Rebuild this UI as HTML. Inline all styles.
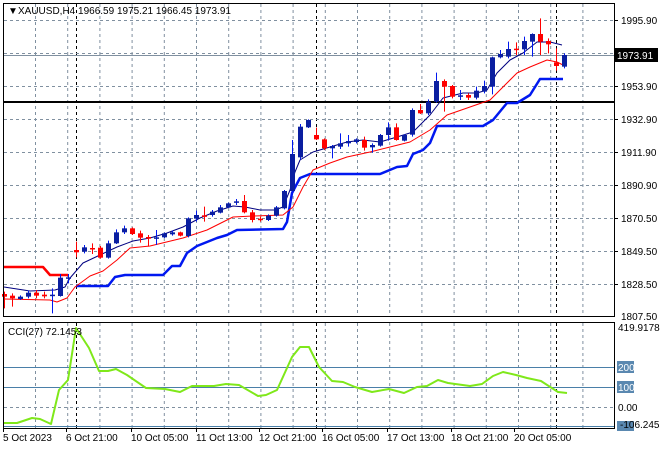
<!DOCTYPE html>
<html><head><meta charset="utf-8">
<style>
html,body{margin:0;padding:0;background:#fff;}
svg{display:block;font-family:"Liberation Sans",sans-serif;font-size:10px;}
</style></head>
<body>
<svg id="s" width="660" height="450" viewBox="0 0 660 450" xmlns="http://www.w3.org/2000/svg">
<rect x="0" y="0" width="660" height="450" fill="#fff"/>
<g id="grid"></g>
<g id="plot"></g>
<rect x="3.5" y="3.5" width="611" height="313" fill="none" stroke="#000"/>
<rect x="3.5" y="322.5" width="611" height="106" fill="none" stroke="#000"/>
<text x="8" y="14" font-size="10">&#9660;</text>
<text x="18" y="14">XAUUSD,H4  1966.59 1975.21 1966.45 1973.91</text>
<text x="8" y="335">CCI(27) 72.1453</text>
<g id="axis"></g>
</svg>
<script>
const NS="http://www.w3.org/2000/svg";
function el(p,t,a,txt){const e=document.createElementNS(NS,t);for(const k in a)e.setAttribute(k,a[k]);if(txt!==undefined)e.textContent=txt;document.getElementById(p).appendChild(e);return e;}
for(let i=0;i<18;i++){const x=35.5+32.2*i;if(x>613)break;
 el('grid','line',{x1:x,y1:4,x2:x,y2:316,stroke:'#8090a0','stroke-dasharray':'3,3'});
 el('grid','line',{x1:x,y1:323,x2:x,y2:428,stroke:'#8090a0','stroke-dasharray':'3,3'});}
[76.5,316.5,556.5].forEach(x=>{el('grid','line',{x1:x,y1:4,x2:x,y2:316,stroke:'#000','stroke-dasharray':'3,3'});el('grid','line',{x1:x,y1:323,x2:x,y2:428,stroke:'#000','stroke-dasharray':'3,3'});});
const hy=[20,53,86,119,152,185,218,251,284];
const hl=['1995.90','','1953.90','1932.90','1911.90','1890.90','1870.50','1849.50','1828.50'];
hy.forEach((y,i)=>{el('grid','line',{x1:4,y1:y+.5,x2:614,y2:y+.5,stroke:'#8090a0','stroke-dasharray':'3,3'});
 if(hl[i]){el('axis','line',{x1:614,y1:y+.5,x2:618,y2:y+.5,stroke:'#000'});el('axis','text',{x:621,y:y+4},hl[i]);}});
el('axis','text',{x:621,y:320},'1807.50');
el('grid','line',{x1:4,y1:55.5,x2:614,y2:55.5,stroke:'#8090a0'});
el('grid','line',{x1:4,y1:102,x2:614,y2:102,stroke:'#000','stroke-width':2});
el('axis','rect',{x:614,y:48,width:44,height:14,fill:'#000'});
el('axis','text',{x:617,y:59,fill:'#fff'},'1973.91');
[[367,'200'],[387,'100']].forEach(([y,t])=>{el('grid','line',{x1:4,y1:y+.5,x2:614,y2:y+.5,stroke:'#4a7fa8'});
 el('axis','rect',{x:617,y:y-6,width:17,height:12,fill:'#5a88b0'});el('axis','text',{x:618,y:y+4,fill:'#fff'},t);});
el('grid','line',{x1:4,y1:407.5,x2:614,y2:407.5,stroke:'#8090a0','stroke-dasharray':'3,3'});
el('grid','line',{x1:4,y1:426.5,x2:614,y2:426.5,stroke:'#4a7fa8'});
el('axis','text',{x:618,y:331},'419.9178');
el('axis','text',{x:618,y:411},'0.00');
el('axis','rect',{x:617,y:421,width:17,height:10,fill:'#5a88b0'});
el('axis','text',{x:620,y:428},'-106.2453');
[['5 Oct 2023',3],['6 Oct 21:00',66],['10 Oct 05:00',131],['11 Oct 13:00',196],['12 Oct 21:00',259],['16 Oct 05:00',322],['17 Oct 13:00',387],['18 Oct 21:00',451],['20 Oct 05:00',514]].forEach(([t,x])=>{
 el('axis','line',{x1:x+.5,y1:428,x2:x+.5,y2:432,stroke:'#000'});el('axis','text',{x:x,y:441},t);});
const C=[[0,882,890,875,925],[0,887,895,880,920],[1,890,897,886,900],[1,878,890,872,895],[0,878,887,870,895],[0,884,889,875,895],[1,884,887,865,940],[1,833,888,822,890],[1,832,835,822,850],[0,750,757,725,772],[1,742,755,735,760],[0,744,747,730,762],[0,743,773,738,776],[1,730,773,722,776],[1,697,730,688,732],[1,685,697,677,702],[0,685,702,682,705],[0,700,713,692,728],[0,711,716,705,740],[1,712,715,690,735],[1,700,712,698,714],[1,697,703,692,707],[0,697,707,695,709],[1,655,708,652,712],[1,645,656,632,665],[0,646,649,620,665],[1,635,645,630,650],[1,622,638,615,640],[1,610,622,608,624],[1,604,607,597,615],[0,603,637,585,640],[0,637,660,630,667],[0,656,659,650,665],[1,647,660,643,663],[1,622,647,618,650],[1,573,625,570,628],[1,462,573,420,580],[1,380,472,372,478],[1,360,382,358,384],[0,405,418,383,420],[0,418,445,415,450],
[1,438,445,435,475],[1,430,440,400,447],[1,423,430,405,440],[1,418,426,415,430],[0,420,443,410,452],[1,435,442,430,458],[1,405,437,402,440],[1,382,405,367,422],[0,382,420,370,422],[1,405,422,403,424],[1,330,404,325,410],[0,330,340,312,342],[1,305,340,298,345],[1,243,305,218,308],[0,243,260,238,335],[0,258,290,255,295],[1,286,289,270,300],[0,285,293,280,300],[1,272,293,260,298],[1,258,275,242,280],[1,172,260,170,283],[1,162,172,150,175],[1,147,170,125,175],[0,146,149,127,165],[1,123,148,110,165],[1,102,125,100,170],[0,102,125,55,165],[0,123,133,115,160],[0,187,198,145,212],[1,165,200,160,205]];
function poly(pts,col,w){el('plot','polyline',{points:pts.map(p=>p.join(',')).join(' '),fill:'none',stroke:col,'stroke-width':w,'stroke-linejoin':'round'});}
poly([[4,267],[43,267],[50,275],[68,275]],'#f00',2.5);
poly([[76,286],[108,286],[115,277],[125,275],[163,275],[172,266],[180,266],[187,253],[197,246],[207,242],[217,238],[227,235],[237,230],[283,229],[287,222],[292,193],[300,178],[310,174],[380,174],[397,167],[407,166],[413,154],[423,150],[430,143],[437,126],[483,126],[493,120],[507,103],[517,103],[530,95],[540,79],[563,79]],'#0018f0',2.5);
poly([[4,299],[50,300],[57,302],[67,298],[75,287],[90,276],[103,271],[117,260],[130,248],[150,246],[183,238],[207,230],[233,217],[253,216],[283,215],[293,207],[303,187],[313,170],[330,163],[347,157],[370,152],[390,147],[410,142],[430,130],[447,115],[470,107],[490,100],[500,90],[517,73],[530,67],[547,60],[557,62],[563,65]],'#f00',1);
poly([[4,287],[30,291],[55,290],[65,287],[70,278],[83,263],[100,255],[117,247],[133,241],[150,238],[167,233],[183,227],[200,218],[217,211],[233,206],[245,207],[260,210],[275,210],[283,207],[290,190],[295,172],[300,160],[313,152],[330,147],[347,142],[363,140],[380,142],[397,137],[413,132],[430,115],[443,98],[463,93],[477,93],[487,90],[497,73],[510,60],[523,53],[537,42],[550,42],[562,45]],'#000080',1);
C.forEach((c,i)=>{const x=4+8*i;const col=c[0]?'#0a1ea0':'#f00';const wc=c[0]?'#0018f0':'#f00';
 el('plot','line',{x1:x+.5,y1:c[3]/3,x2:x+.5,y2:c[4]/3,stroke:wc});
 let h=(c[2]-c[1])/3;if(h<1.5)h=1.5;
 el('plot','rect',{x:x-2,y:c[1]/3,width:5,height:h,fill:col});});
poly([[4,423],[17,423],[32,418],[40,419],[51,424],[59,390],[68,380],[76,328],[89,348],[99,371],[108,371],[116,369],[127,375],[146,388],[165,389],[180,392],[192,386],[214,386],[226,384],[239,385],[258,396],[266,395],[277,390],[292,357],[300,347],[309,347],[319,367],[332,381],[343,382],[355,387],[372,392],[389,389],[404,393],[417,387],[427,386],[438,380],[448,383],[470,386],[482,384],[493,376],[503,372],[516,375],[527,378],[541,381],[558,392],[567,393]],'#7fe81a',2);
</script>
</body></html>
